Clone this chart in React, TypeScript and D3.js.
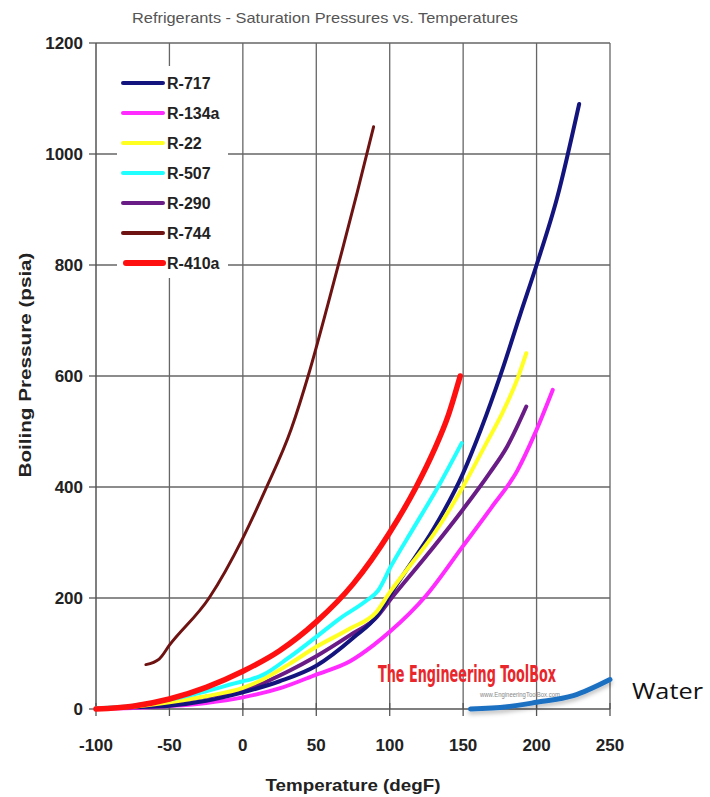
import React, { useLayoutEffect, useRef, useState } from "react";
import * as d3 from "d3";

const xTicks = [-100, -50, 0, 50, 100, 150, 200, 250];
const yTicks = [0, 200, 400, 600, 800, 1000, 1200];

const r717T = [-100, -75, -50, -25, 0, 25, 50, 75, 92, 100, 110, 130, 150, 162, 176, 189, 200, 214, 229];
const r717P = [1, 3, 6, 15, 30, 50, 78, 128, 170, 205, 245, 325, 425, 503, 606, 712, 800, 921, 1090];

const r134aT = [-100, -75, -50, -25, 0, 26, 50, 73, 89, 100, 125, 150, 169, 187, 199, 211];
const r134aP = [1, 2, 5.5, 11, 21, 38, 62, 86, 115, 139, 205, 294, 362, 430, 497, 575];

const r22T = [-100, -75, -50, -25, 0, 11, 31, 50, 73, 91, 100, 112, 130, 150, 166, 177, 187, 193];
const r22P = [1, 4, 12, 23, 38, 50, 80, 112, 145, 175, 210, 252, 315, 401, 480, 535, 595, 641];

const r507T = [-100, -75, -50, -25, 0, 5, 14, 31, 50, 66, 84, 92, 101, 116, 135, 149];
const r507P = [1, 6, 17, 32, 50, 53, 62, 92, 130, 163, 195, 213, 258, 325, 410, 479];

const r290T = [-100, -75, -50, -25, 0, 11, 31, 50, 73, 91, 101, 125, 150, 168, 180, 193];
const r290P = [1, 4, 11, 22, 35, 44, 68, 95, 133, 165, 199, 276, 360, 425, 473, 545];

const r744T = [-66, -57, -50, -23, 0, 15, 33, 45, 58, 67, 78, 89];
const r744P = [80, 90, 115, 200, 308, 393, 505, 605, 730, 820, 932, 1049];

const r410aT = [-100, -75, -50, -25, 0, 25, 50, 75, 100, 118, 130, 140, 148];
const r410aP = [0, 5, 18, 39, 68, 105, 157, 225, 318, 400, 465, 530, 600];

const waterT = [155, 180, 200, 225, 250];
const waterP = [0, 4, 12, 24, 53];

const seriesNames = ["R-717", "R-134a", "R-22", "R-507", "R-290", "R-744", "R-410a"];
const seriesColors = ["#14147e", "#ff2bff", "#ffff22", "#22ffff", "#6a1c86", "#6e1212", "#ff1010"];
const seriesWidths = [4, 4, 4, 4, 4, 3, 5.5];
const seriesT = [r717T, r134aT, r22T, r507T, r290T, r744T, r410aT];
const seriesP = [r717P, r134aP, r22P, r507P, r290P, r744P, r410aP];
const drawOrder = [1, 4, 0, 2, 3, 6, 5];

function FitText(props: { x: number; y: number; width: number; children: string; [k: string]: any }) {
  const { x, y, width, children, ...rest } = props;
  const ref = useRef<SVGTextElement>(null);
  const [sx, setSx] = useState(0.6);
  useLayoutEffect(() => {
    if (ref.current) {
      const w = ref.current.getComputedTextLength();
      if (w > 0) setSx(width / w);
    }
  }, [width, children]);
  return (
    <text ref={ref} transform={`translate(${x},${y}) scale(${sx},1)`} {...rest}>
      {children}
    </text>
  );
}

export default function App() {
  const W = 710, H = 797;
  const x = d3.scaleLinear().domain([-100, 250]).range([96, 610]);
  const y = d3.scaleLinear().domain([0, 1200]).range([709, 43]);
  const line = d3
    .line<[number, number]>()
    .x((d) => x(d[0]))
    .y((d) => y(d[1]))
    .curve(d3.curveMonotoneX);
  const pts = (T: number[], P: number[]) => T.map((t, i) => [t, P[i]] as [number, number]);
  const grid = "#666";
  const font = "'Liberation Sans', Arial, sans-serif";

  return (
    <svg width={W} height={H} style={{ position: "absolute", left: 0, top: 0, background: "#fff" }}>
      <defs>
        <filter id="shadow" x="-10%" y="-50%" width="120%" height="200%">
          <feDropShadow dx="0" dy="3" stdDeviation="2" floodColor="#000" floodOpacity="0.25" />
        </filter>
      </defs>
      <rect x={0} y={0} width={W} height={H} fill="#fff" />
      <text x={325} y={23} textAnchor="middle" fontFamily={font} fontSize={15} fill="#555" textLength={386} lengthAdjust="spacingAndGlyphs">
        Refrigerants - Saturation Pressures vs. Temperatures
      </text>
      {/* grid */}
      {xTicks.slice(1).map((t) => (
        <line key={"gx" + t} x1={x(t)} x2={x(t)} y1={y(1200)} y2={y(0)} stroke={grid} strokeWidth={1.3} />
      ))}
      {yTicks.slice(1).map((t) => (
        <line key={"gy" + t} x1={x(-100)} x2={x(250)} y1={y(t)} y2={y(t)} stroke={grid} strokeWidth={1.3} />
      ))}
      {/* axes */}
      <line x1={x(-100)} x2={x(-100)} y1={y(1200)} y2={y(0)} stroke="#555" strokeWidth={1.5} />
      <line x1={x(-100)} x2={x(250)} y1={y(0)} y2={y(0)} stroke="#555" strokeWidth={1.5} />
      {yTicks.map((t) => (
        <line key={"ty" + t} x1={x(-100) - 7} x2={x(-100)} y1={y(t)} y2={y(t)} stroke="#555" strokeWidth={1.3} />
      ))}
      {xTicks.map((t) => (
        <line key={"tx" + t} x1={x(t)} x2={x(t)} y1={y(0) - 6} y2={y(0) + 7} stroke="#555" strokeWidth={1.3} />
      ))}
      {yTicks.map((t) => (
        <text key={"ly" + t} x={83} y={y(t) + 6} textAnchor="end" fontFamily={font} fontWeight="bold" fontSize={17} fill="#222">
          {t}
        </text>
      ))}
      {xTicks.map((t) => (
        <text key={"lx" + t} x={x(t)} y={751} textAnchor="middle" fontFamily={font} fontWeight="bold" fontSize={17} fill="#222">
          {t}
        </text>
      ))}
      <text x={353} y={791} textAnchor="middle" fontFamily={font} fontWeight="bold" fontSize={17} fill="#222" textLength={175} lengthAdjust="spacingAndGlyphs">
        Temperature (degF)
      </text>
      <text transform={`translate(31,365) rotate(-90)`} textAnchor="middle" fontFamily={font} fontWeight="bold" fontSize={17} fill="#222" textLength={225} lengthAdjust="spacingAndGlyphs">
        Boiling Pressure (psia)
      </text>
      {/* watermark */}
      <FitText x={378} y={682} width={178} fontFamily="'Liberation Sans Narrow', 'DejaVu Sans Condensed', sans-serif" fontWeight="bold" fontSize={23} fill="#e8262c">
        The Engineering ToolBox
      </FitText>
      <FitText x={480} y={697} width={80} fontFamily={font} fontSize={7} fill="#888">
        www.EngineeringToolBox.com
      </FitText>
      {/* water */}
      <path d={line(pts(waterT, waterP)) || ""} fill="none" stroke="#1f70c2" strokeWidth={5} strokeLinecap="round" filter="url(#shadow)" />
      {/* series */}
      {drawOrder.map((i) => (
        <path
          key={seriesNames[i]}
          d={line(pts(seriesT[i], seriesP[i])) || ""}
          fill="none"
          stroke={seriesColors[i]}
          strokeWidth={seriesWidths[i]}
          strokeLinecap="round"
          strokeLinejoin="round"
        />
      ))}
      {/* legend */}
      <rect x={117} y={66} width={111} height={212} fill="#fff" />
      {seriesNames.map((n, i) => {
        const yy = 83 + i * 30;
        return (
          <g key={"lg" + n}>
            <line x1={i === 6 ? 126 : 123} x2={163} y1={yy} y2={yy} stroke={seriesColors[i]} strokeWidth={i === 6 ? 6 : 4} strokeLinecap="round" />
            <text x={167} y={yy + 6} fontFamily={font} fontWeight="bold" fontSize={16} fill="#222">
              {n}
            </text>
          </g>
        );
      })}
      <FitText x={632} y={699} width={71} fontFamily="'Open Sans', 'Noto Sans', sans-serif" fontSize={21} fill="#111">
        Water
      </FitText>
    </svg>
  );
}
